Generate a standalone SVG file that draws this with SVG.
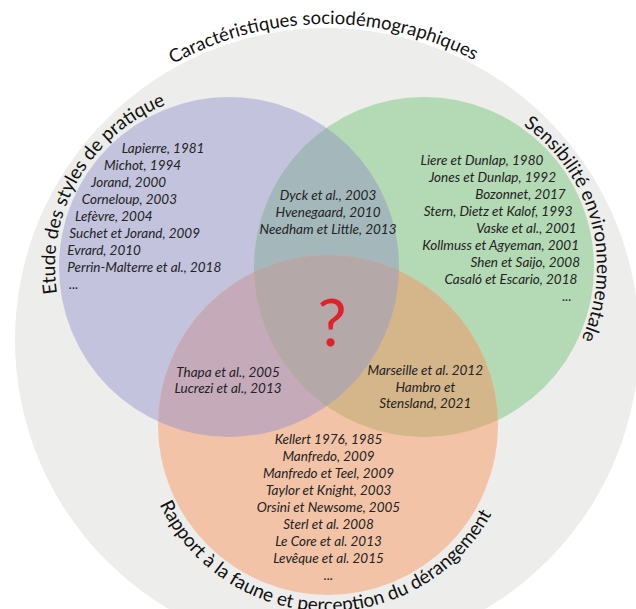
<svg xmlns="http://www.w3.org/2000/svg" xmlns:xlink="http://www.w3.org/1999/xlink" width="636" height="609" viewBox="0 0 636 609">
  <style>
    .ref { font-family: Lato, "Open Sans", sans-serif; font-style: italic; font-size: 13.5px; fill: #222222; }
    .ref-c { text-anchor: middle; }
    .ref-e { text-anchor: end; }
    .lbl { font-family: Lato, "Open Sans", sans-serif; font-size: 19px; fill: #111111; }
    .lbl-top { font-size: 18.5px; }
    .q { font-family: Lato, "Open Sans", sans-serif; font-size: 65px; fill: #E0222B; text-anchor: middle; }
  </style>
  <defs>
    <clipPath id="cpP"><circle cx="229" cy="267" r="170"/></clipPath>
    <clipPath id="cpG"><circle cx="424" cy="267" r="170"/></clipPath>
    <path id="arcTop" d="M 53.3 182 A 316 316 0 0 1 596.7 175.4"/>
    <path id="arcP" d="M 78.3 354 A 174 174 0 0 1 229 93"/>
    <path id="arcG" d="M 468.2 99.7 A 173 173 0 0 1 546.8 388.9"/>
    <path id="arcO" d="M 142.3 435.9 A 186 186 0 0 0 512.8 446.5"/>
  </defs>

  <rect width="636" height="609" fill="#FFFFFF"/>

  <g id="socio">
    <circle cx="327" cy="340" r="312" fill="#EDEDEB"/>
    <text class="lbl lbl-top"><textPath href="#arcTop" startOffset="50%" text-anchor="middle">Caractéristiques sociodémographiques</textPath></text>
  </g>

  <g id="pratique">
    <circle cx="229" cy="267" r="170" fill="#C3C3DE"/>
  </g>
  <g id="sensibilite">
    <circle cx="424" cy="267" r="170" fill="#B4D9B5"/>
  </g>
  <g id="faune">
    <circle cx="328" cy="425" r="170" fill="#F3C3A7"/>
  </g>

  <g id="overlaps">
    <circle cx="424" cy="267" r="170" fill="#A4B8BB" clip-path="url(#cpP)"/>
    <circle cx="328" cy="425" r="170" fill="#C5AAB9" clip-path="url(#cpP)"/>
    <circle cx="328" cy="425" r="170" fill="#D5B68A" clip-path="url(#cpG)"/>
    <g clip-path="url(#cpG)">
      <circle cx="328" cy="425" r="170" fill="#B5A8A9" clip-path="url(#cpP)"/>
    </g>
  </g>

  <g id="labels">
    <text class="lbl"><textPath href="#arcP" startOffset="50%" text-anchor="middle">Etude des styles de pratique</textPath></text>
    <text class="lbl"><textPath href="#arcG" startOffset="50%" text-anchor="middle">Sensibilité environnementale</textPath></text>
    <text class="lbl"><textPath href="#arcO" startOffset="50%" text-anchor="middle">Rapport à la faune et perception du dérangement</textPath></text>
  </g>

  <g id="refs-pratique" class="ref">
    <text x="121.7" y="152.5">Lapierre, 1981</text>
    <text x="104" y="169.5">Michot, 1994</text>
    <text x="91" y="186.5">Jorand, 2000</text>
    <text x="81.7" y="203.5">Corneloup, 2003</text>
    <text x="75" y="220.5">Lefèvre, 2004</text>
    <text x="69.3" y="237.5">Suchet et Jorand, 2009</text>
    <text x="67.3" y="254.5">Evrard, 2010</text>
    <text x="67.3" y="271.5">Perrin-Malterre et al., 2018</text>
    <text x="69" y="288.5">...</text>
  </g>

  <g id="refs-pratique-sensibilite" class="ref ref-c">
    <text x="328" y="200">Dyck et al., 2003</text>
    <text x="328" y="217">Hvenegaard, 2010</text>
    <text x="328" y="234">Needham et Little, 2013</text>
  </g>

  <g id="refs-sensibilite" class="ref ref-e">
    <text x="543.3" y="165">Liere et Dunlap, 1980</text>
    <text x="556" y="182">Jones et Dunlap, 1992</text>
    <text x="565.7" y="199">Bozonnet, 2017</text>
    <text x="572.7" y="216">Stern, Dietz et Kalof, 1993</text>
    <text x="576.7" y="233">Vaske et al., 2001</text>
    <text x="579" y="250">Kollmuss et Agyeman, 2001</text>
    <text x="580" y="267">Shen et Saijo, 2008</text>
    <text x="577.3" y="284">Casaló et Escario, 2018</text>
    <text x="571.7" y="301">...</text>
  </g>

  <g id="refs-pratique-faune" class="ref ref-c">
    <text x="228" y="376.7">Thapa et al., 2005</text>
    <text x="228" y="393.3">Lucrezi et al., 2013</text>
  </g>

  <g id="refs-sensibilite-faune" class="ref ref-c">
    <text x="425.3" y="375">Marseille et al. 2012</text>
    <text x="425.3" y="391.7">Hambro et</text>
    <text x="425.3" y="408.3">Stensland, 2021</text>
  </g>

  <g id="refs-faune" class="ref ref-c">
    <text x="328.5" y="443.5">Kellert 1976, 1985</text>
    <text x="328.5" y="460.5">Manfredo, 2009</text>
    <text x="328.5" y="477.5">Manfredo et Teel, 2009</text>
    <text x="328.5" y="494.5">Taylor et Knight, 2003</text>
    <text x="328.5" y="511.5">Orsini et Newsome, 2005</text>
    <text x="328.5" y="528.5">Sterl et al. 2008</text>
    <text x="328.5" y="545.5">Le Core et al. 2013</text>
    <text x="328.5" y="562.5">Levêque et al. 2015</text>
    <text x="328.5" y="579.5">...</text>
  </g>

  <g id="centre">
    <text class="q" x="332" y="346">?</text>
  </g>
</svg>
